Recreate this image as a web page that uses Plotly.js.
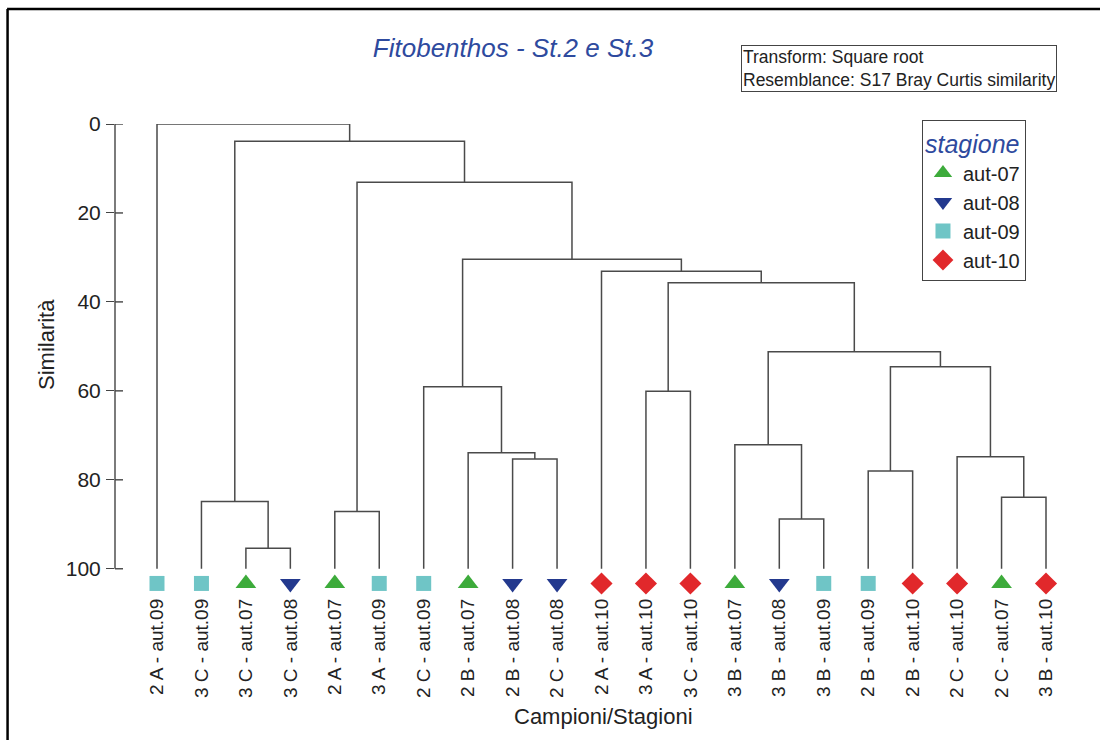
<!DOCTYPE html>
<html>
<head>
<meta charset="utf-8">
<script src="https://cdn.plot.ly/plotly-3.0.1.min.js"></script>
<style>
  html, body { margin: 0; padding: 0; background: #fff; }
  #chart { width: 1100px; height: 740px; }
</style>
</head>
<body>
<div id="chart"></div>
<script>
// Samples in dendrogram leaf order
const sampleLabels = [
  "2 A - aut.09", "3 C - aut.09", "3 C - aut.07", "3 C - aut.08",
  "2 A - aut.07", "3 A - aut.09", "2 C - aut.09", "2 B - aut.07",
  "2 B - aut.08", "2 C - aut.08", "2 A - aut.10", "3 A - aut.10",
  "3 C - aut.10", "3 B - aut.07", "3 B - aut.08", "3 B - aut.09",
  "2 B - aut.09", "2 B - aut.10", "2 C - aut.10", "2 C - aut.07",
  "3 B - aut.10"
];
const sampleSeason = [
  "aut-09", "aut-09", "aut-07", "aut-08",
  "aut-07", "aut-09", "aut-09", "aut-07",
  "aut-08", "aut-08", "aut-10", "aut-10",
  "aut-10", "aut-07", "aut-08", "aut-09",
  "aut-09", "aut-10", "aut-10", "aut-07",
  "aut-10"
];

// Agglomeration steps: node ids 0..20 are samples, step k creates node 21+k
const mergeLeft   = [2, 1, 4, 8, 7, 6, 11, 14, 13, 16, 19, 18, 30, 29, 27, 10, 26, 23, 22, 0];
const mergeRight  = [3, 21, 5, 9, 24, 25, 12, 15, 28, 17, 20, 31, 32, 33, 34, 35, 36, 37, 38, 39];
const mergeSimilarity = [95.4, 84.9, 87.1, 75.3, 73.9, 59.1, 60.1, 88.8, 72.1, 78.0, 83.9, 74.8, 54.6, 51.2, 35.7, 33.1, 30.4, 13.1, 3.9, 0.0];

const seasons = ["aut-07", "aut-08", "aut-09", "aut-10"];

// Marker style per season
const seasonSymbols = ["triangle-up", "triangle-down", "square", "diamond"];
const seasonColors = ["#3dab3b", "#23398e", "#6fc5c6", "#e1282b"];
const seasonMarkerSizes = [18, 18, 15, 17];

const similarityTicks = [0, 20, 40, 60, 80, 100];

// Build the dendrogram branches (one polyline with gaps)
const nLeaves = sampleLabels.length;
const nodeX = [], nodeY = [];
for (let i = 0; i < nLeaves; i++) { nodeX.push(i); nodeY.push(100); }
const bx = [], by = [];
for (let k = 0; k < mergeLeft.length; k++) {
  const a = mergeLeft[k], b = mergeRight[k], h = mergeSimilarity[k];
  bx.push(nodeX[a], nodeX[a], nodeX[b], nodeX[b], null);
  by.push(nodeY[a], h, h, nodeY[b], null);
  nodeX.push((nodeX[a] + nodeX[b]) / 2);
  nodeY.push(h);
}

const traces = [{
  type: "scatter", mode: "lines", x: bx, y: by,
  line: { color: "#4a4a4a", width: 1.5 },
  hoverinfo: "skip", showlegend: false
}];

// Season markers beneath each sample
const markerLevel = 103.3;
seasons.forEach((s, si) => {
  const xs = [], ys = [], txt = [];
  sampleSeason.forEach((v, i) => {
    if (v === s) { xs.push(i); ys.push(markerLevel); txt.push(sampleLabels[i]); }
  });
  traces.push({
    type: "scatter", mode: "markers", name: s, x: xs, y: ys, text: txt,
    cliponaxis: false,
    marker: { symbol: seasonSymbols[si], color: seasonColors[si], size: seasonMarkerSizes[si], line: { width: 0 } },
    hovertemplate: "%{text}<extra></extra>"
  });
});

// Similarity axis: vertical rule from 0 to 100 plus inward halves of the crossing ticks
const shapes = [{
  type: "line", xref: "paper", yref: "y", x0: 0, x1: 0, y0: 0, y1: 100,
  line: { color: "#444", width: 1.4 }
}];
similarityTicks.forEach(t => shapes.push({
  type: "line", xref: "paper", yref: "y", x0: 0, x1: 0.0084, y0: t, y1: t,
  line: { color: "#444", width: 1.4 }
}));
// Frame lines
shapes.push({ type: "line", xref: "paper", yref: "paper", x0: -0.113, x1: 1.04, y0: 1.2463, y1: 1.2463, line: { color: "#000", width: 2.5 } });
shapes.push({ type: "line", xref: "paper", yref: "paper", x0: -0.1125, x1: -0.1125, y0: 1.2463, y1: -0.33, line: { color: "#000", width: 2.5 } });

const font = "Liberation Sans, Arial, sans-serif";

const layout = {
  width: 1100, height: 740,
  margin: { l: 115, r: 30, t: 124, b: 149, autoexpand: false },
  paper_bgcolor: "#ffffff", plot_bgcolor: "#ffffff",
  font: { family: font, color: "#222" },
  title: {
    text: "Fitobenthos - St.2 e St.3",
    font: { family: font, size: 26, color: "#2e4a9e", style: "italic" },
    x: 0.4664, xanchor: "center", xref: "container",
    y: 0.935, yanchor: "middle", yref: "container"
  },
  xaxis: {
    range: [-0.945, 20.54],
    tickmode: "array",
    tickvals: sampleLabels.map((_, i) => i),
    ticktext: sampleLabels,
    tickangle: -90,
    ticks: "",
    ticklabelstandoff: 3,
    tickfont: { family: font, size: 19, color: "#222" },
    showline: false, showgrid: false, zeroline: false,
    automargin: false,
    fixedrange: true
  },
  yaxis: {
    range: [105, 0],
    tickmode: "array",
    tickvals: similarityTicks,
    ticks: "outside", ticklen: 8, tickwidth: 1.4, tickcolor: "#444",
    ticklabelstandoff: 1,
    tickfont: { family: font, size: 21, color: "#222" },
    showline: false,
    showgrid: false, zeroline: false,
    automargin: false,
    fixedrange: true
  },
  showlegend: true,
  legend: {
    xref: "paper", yref: "paper",
    x: 0.845, xanchor: "left", y: 1.0086, yanchor: "top",
    bordercolor: "#444", borderwidth: 1, bgcolor: "#fff",
    font: { family: font, size: 20, color: "#222" },
    title: { text: "stagione", side: "top", font: { family: font, size: 25, color: "#2e4a9e", style: "italic" } },
    itemwidth: 30, tracegroupgap: 0
  },
  annotations: [
    {
      xref: "paper", yref: "paper",
      x: 0.6555, xanchor: "left", y: 1.169, yanchor: "top",
      text: "Transform: Square root<br>Resemblance: S17 Bray Curtis similarity",
      align: "left", showarrow: false,
      font: { family: font, size: 17.5, color: "#222" },
      bordercolor: "#444", borderwidth: 1, borderpad: 1, bgcolor: "#fff"
    },
    {
      xref: "paper", yref: "paper", x: 0.512, y: -0.2677,
      xanchor: "center", yanchor: "middle", showarrow: false,
      text: "Campioni/Stagioni",
      font: { family: font, size: 22, color: "#222" }
    },
    {
      xref: "paper", yref: "paper", x: -0.0712, y: 0.5268,
      xanchor: "center", yanchor: "middle", showarrow: false, textangle: -90,
      text: "Similarità",
      font: { family: font, size: 22, color: "#222" }
    }
  ],
  shapes: shapes
};

Plotly.newPlot("chart", traces, layout, { displayModeBar: false });
</script>
</body>
</html>
